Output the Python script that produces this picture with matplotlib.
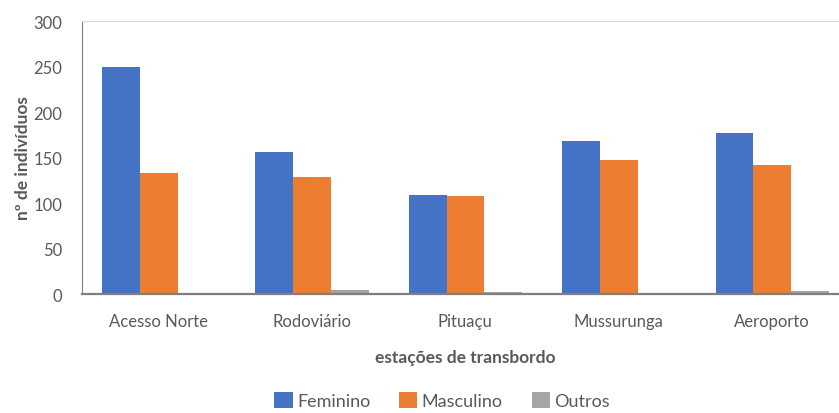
import matplotlib.pyplot as plt
import numpy as np

estacoes = ["Acesso Norte", "Rodoviário", "Pituaçu", "Mussurunga", "Aeroporto"]
feminino = [250, 156, 109, 168, 177]
masculino = [133, 129, 108, 147, 142]
outros = [0, 4, 2, 1, 3]

plt.rcParams['font.family'] = ['Lato', 'DejaVu Sans']

fig = plt.figure(figsize=(8.39, 4.14), dpi=100)
ax = fig.add_axes([0.0977, 0.2874, 0.914, 0.6594])

x = np.arange(len(estacoes))
w = 0.246
ax.bar(x - w, feminino, width=w, color="#4472C4", label="Feminino")
ax.bar(x, masculino, width=w, color="#ED7D31", label="Masculino")
ax.bar(x + w, outros, width=w, color="#A5A5A5", label="Outros")

ax.set_xlim(-0.5, len(estacoes) - 0.5)
ax.set_ylim(0, 300)
ax.set_yticks(range(0, 301, 50))
ax.set_xticks(x)
ax.set_xticklabels(estacoes)
ax.tick_params(length=0, labelsize=12, colors="#595959")
ax.tick_params(axis='y', pad=14)
ax.tick_params(axis='x', pad=14)

ax.spines["right"].set_visible(False)
ax.spines["top"].set_color("#D9D9D9")
ax.spines["left"].set_color("#7F7F7F")
ax.spines["bottom"].set_color("#7F7F7F")
ax.spines["bottom"].set_linewidth(1.6)

ax.set_xlabel("estações de transbordo", fontsize=12.5, fontweight="bold",
              color="#595959", labelpad=14)
ax.set_ylabel("nº de indivíduos", fontsize=12.5, fontweight="bold",
              color="#595959", labelpad=2)

fig.legend(loc="lower center", bbox_to_anchor=(0.527, -0.03), ncol=3,
           frameon=False, fontsize=13, handlelength=1.0, handleheight=1.0,
           columnspacing=1.6, handletextpad=0.25, labelcolor="#595959")

fig.savefig("out.png", dpi=100)
